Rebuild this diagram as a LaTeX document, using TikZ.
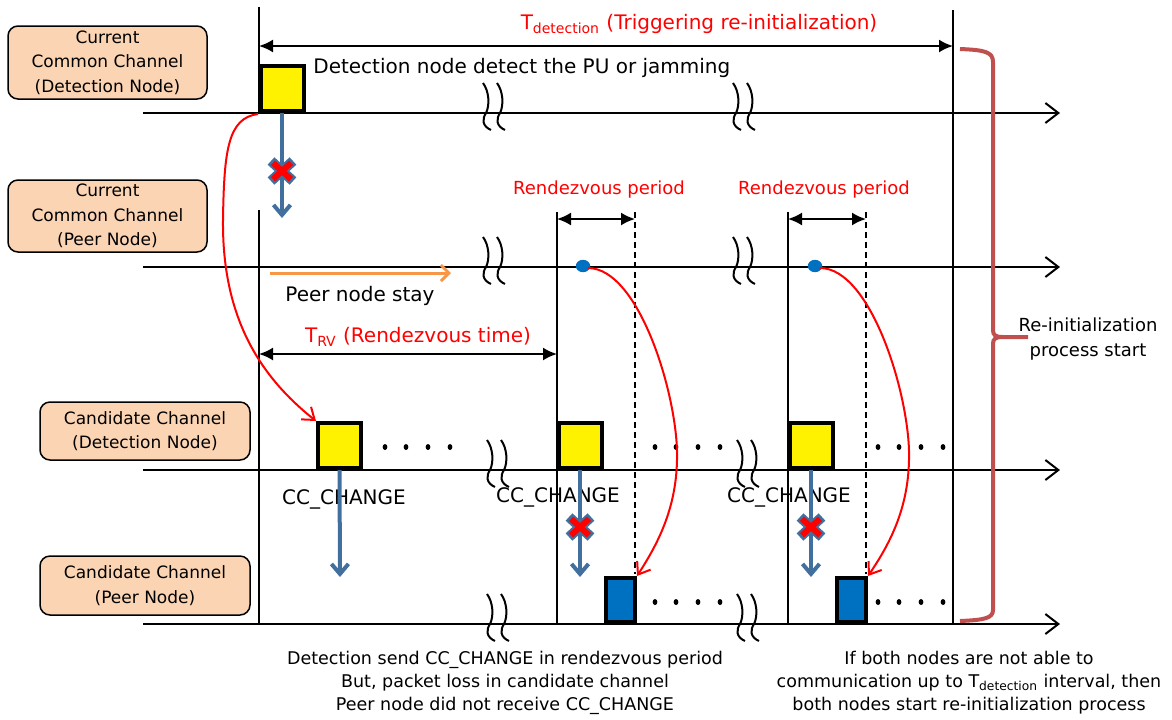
\documentclass[tikz,border=0pt]{standalone}
\usepackage{fontspec}
\setmainfont{DejaVu Sans}
\usetikzlibrary{arrows.meta}
\definecolor{peach}{HTML}{FBD4B4}
\definecolor{sigblue}{HTML}{41709E}
\definecolor{boxblue}{HTML}{0070C0}
\definecolor{bracered}{HTML}{C0504D}
\definecolor{orng}{HTML}{F79646}
\newcommand\lossmark[1]{%
  \begin{scope}[shift={(#1)}]
    \draw[sigblue, line width=5pt] (-11,-10) -- (11,10) (-11,10) -- (11,-10);
    \draw[red, line width=3pt] (-9,-8.2) -- (9,8.2) (-9,8.2) -- (9,-8.2);
  \end{scope}}
\newcommand\brkmark[1]{%
  \begin{scope}[shift={(#1)}]
    \draw[line width=1pt] (-3,-30) .. controls (3,-22) and (4,-8) .. (0,0) .. controls (-4,6) and (-4,13) .. (5,17);
    \draw[line width=1pt] (11,-30) .. controls (17,-22) and (18,-8) .. (14,0) .. controls (10,6) and (10,13) .. (19,17);
  \end{scope}}
\newcommand\dotrow[2]{%
  \foreach \dx in {0,21,43,65} {\fill ({#1+\dx},#2) circle[x radius=1.2pt, y radius=1.5pt];}}
\tikzset{
  chan/.style={line width=1pt, -{Straight Barb[length=6.5pt,width=10pt]}},
  vline/.style={line width=1pt},
  dline/.style={line width=0.8pt, dash pattern=on 3pt off 2pt},
  dim/.style={line width=1pt, {Latex[length=7pt,width=6.5pt]}-{Latex[length=7pt,width=6.5pt]}},
  sig/.style={draw=sigblue, line width=2pt, -{Straight Barb[length=5pt,width=8.5pt]}},
  redarr/.style={red, line width=1pt, -{Straight Barb[length=5.5pt,width=8pt]}},
  ybox/.style={draw, line width=2pt, fill=yellow, minimum width=21.5pt, minimum height=22.5pt, inner sep=0pt},
  bbox/.style={draw, line width=2pt, fill=boxblue, minimum width=14.5pt, minimum height=22pt, inner sep=0pt},
  lbl/.style={draw, line width=0.75pt, fill=peach, rounded corners=5pt, align=center, inner sep=0pt,
    font=\fontsize{8.5}{12.25}\selectfont},
  txt/.style={inner sep=0pt, font=\fontsize{10}{12}\selectfont},
  redtxt/.style={inner sep=0pt, text=red, font=\fontsize{10}{12}\selectfont},
  rptxt/.style={inner sep=0pt, text=red, font=\fontsize{9}{11}\selectfont},
  note/.style={inner sep=0pt, align=center, font=\fontsize{8.75}{11.5}\selectfont},
}
\begin{document}
\begin{tikzpicture}[x=0.5pt,y=-0.5pt]
\useasboundingbox (0,0) rectangle (1172,719);

% channel labels
\node[lbl, minimum width=99.5pt, minimum height=36.5pt] (la) at (107.5,62.5) {Current\\Common Channel\\(Detection Node)};
\node[lbl, minimum width=99.5pt, minimum height=36pt] (lb) at (107.5,216) {Current\\Common Channel\\(Peer Node)};
\node[lbl, minimum width=105pt, minimum height=29pt] (lc) at (145,431) {Candidate Channel\\(Detection Node)};
\node[lbl, minimum width=105pt, minimum height=29.5pt] (ld) at (145,585.5) {Candidate Channel\\(Peer Node)};

% channel lines
\coordinate (c1s) at (143,113); \coordinate (c1e) at (1060,113);
\coordinate (c2s) at (143,267); \coordinate (c2e) at (1060,267);
\coordinate (c3s) at (143,470); \coordinate (c3e) at (1060,470);
\coordinate (c4s) at (143,624); \coordinate (c4e) at (1060,624);
\draw[chan] (c1s) -- (c1e);
\draw[chan] (c2s) -- (c2e);
\draw[chan] (c3s) -- (c3e);
\draw[chan] (c4s) -- (c4e);

% break marks
\brkmark{486,113}\brkmark{736,113}
\brkmark{486,267}\brkmark{736,267}
\brkmark{490,470}\brkmark{740,470}
\brkmark{490,624}\brkmark{740,624}

% vertical lines
\coordinate (v0a) at (259,7); \coordinate (v0b) at (259,113);
\coordinate (v1a) at (259,210); \coordinate (v1b) at (259,624);
\coordinate (v2a) at (953,10); \coordinate (v2b) at (953,624);
\coordinate (v3a) at (557,212); \coordinate (v3b) at (557,624);
\coordinate (v4a) at (788,212); \coordinate (v4b) at (788,624);
\coordinate (d1a) at (635,212); \coordinate (d1b) at (635,574);
\coordinate (d2a) at (866,212); \coordinate (d2b) at (866,574);
\draw[vline] (v0a) -- (v0b);
\draw[vline] (v1a) -- (v1b);
\draw[vline] (v2a) -- (v2b);
\draw[vline] (v3a) -- (v3b);
\draw[vline] (v4a) -- (v4b);
\draw[dline] (d1a) -- (d1b);
\draw[dline] (d2a) -- (d2b);

% dimension arrows
\coordinate (t1a) at (259,46); \coordinate (t1b) at (953,46);
\draw[dim] (t1a) -- (t1b);
\node[redtxt] (tdet) at (699,24) {T\textsubscript{detection} (Triggering re-initialization)};
\coordinate (t2a) at (259,354); \coordinate (t2b) at (557,354);
\draw[dim] (t2a) -- (t2b);
\node[redtxt] (trv) at (418,337) {T\textsubscript{RV} (Rendezvous time)};
\coordinate (r1a) at (557,219); \coordinate (r1b) at (635,219);
\draw[dim] (r1a) -- (r1b);
\node[rptxt] (rp1) at (599,190) {Rendezvous period};
\coordinate (r2a) at (788,219); \coordinate (r2b) at (866,219);
\draw[dim] (r2a) -- (r2b);
\node[rptxt] (rp2) at (824,190) {Rendezvous period};

% detection
\node[ybox] (y1) at (282,88.5) {};
\node[txt, anchor=west] (dett) at (313,68) {Detection node detect the PU or jamming};
\coordinate (s1e) at (282,218);
\draw[sig] (y1.south) -- (s1e);
\lossmark{282,171}

% peer stay
\coordinate (o1) at (270,273); \coordinate (o2) at (451,273);
\draw[orng, line width=1.5pt, -{Straight Barb[length=4pt,width=8pt]}] (o1) -- (o2);
\node[txt, anchor=west] (pst) at (285,296) {Peer node stay};

% candidate channel boxes
\node[ybox] (y2) at (339.5,445.5) {};
\node[ybox] (y3) at (580,445.5) {};
\node[ybox] (y4) at (811,445.5) {};
\dotrow{385}{447}
\dotrow{655}{447}
\dotrow{878}{447}

\node[txt] (cc1) at (344,499) {CC\_CHANGE};
\node[txt] (cc2) at (558,497) {CC\_CHANGE};
\node[txt] (cc3) at (789,497) {CC\_CHANGE};

\coordinate (s2e) at (340,577);
\coordinate (s3e) at (580,577);
\coordinate (s4e) at (811,577);
\draw[sig] (y2.south) -- (s2e);
\draw[sig] (y3.south) -- (s3e);
\draw[sig] (y4.south) -- (s4e);
\lossmark{580,527}
\lossmark{811,527}

% peer candidate boxes
\node[bbox] (b1) at (620.5,600) {};
\node[bbox] (b2) at (851.5,600) {};
\dotrow{655}{602}
\dotrow{878}{602}

% blue dots
\fill[boxblue] (583,266) circle[x radius=3.6pt, y radius=3.1pt];
\fill[boxblue] (815,266) circle[x radius=3.6pt, y radius=3.1pt];
\coordinate (p1) at (588,268);
\coordinate (p2) at (820,268);

% red curves
\coordinate (rc0) at (258,114);
\draw[redarr] (rc0) .. controls (228,118) and (224,150) .. (223,220) .. controls (222,320) and (262,378) .. (y2.north west);
\draw[redarr] (p1) .. controls (640,268) and (679,400) .. (677,460) .. controls (676,510) and (657,545) .. (b1.north east);
\draw[redarr] (p2) .. controls (872,268) and (911,400) .. (909,460) .. controls (908,510) and (889,545) .. (b2.north east);

% brace
\draw[bracered, line width=2pt] (960,49) .. controls (985,50) and (993,52) .. (993,62) -- (993,330)
  .. controls (993,335) and (995,337) .. (1003,337) -- (1028,337);
\draw[bracered, line width=2pt] (1003,337) .. controls (995,337) and (993,339) .. (993,344) -- (993,610)
  .. controls (993,618) and (985,620) .. (960,621);
\node[note, font=\fontsize{9}{12.5}\selectfont] (reinit) at (1088,339) {Re-initialization\\process start};

% bottom notes
\node[note] (n1) at (505,683) {Detection send CC\_CHANGE in rendezvous period\\But, packet loss in candidate channel\\Peer node did not receive CC\_CHANGE};
\node[note] (n2) at (969,683) {If both nodes are not able to\\communication up to T\textsubscript{detection} interval, then\\both nodes start re-initialization process};
\end{tikzpicture}
\end{document}
